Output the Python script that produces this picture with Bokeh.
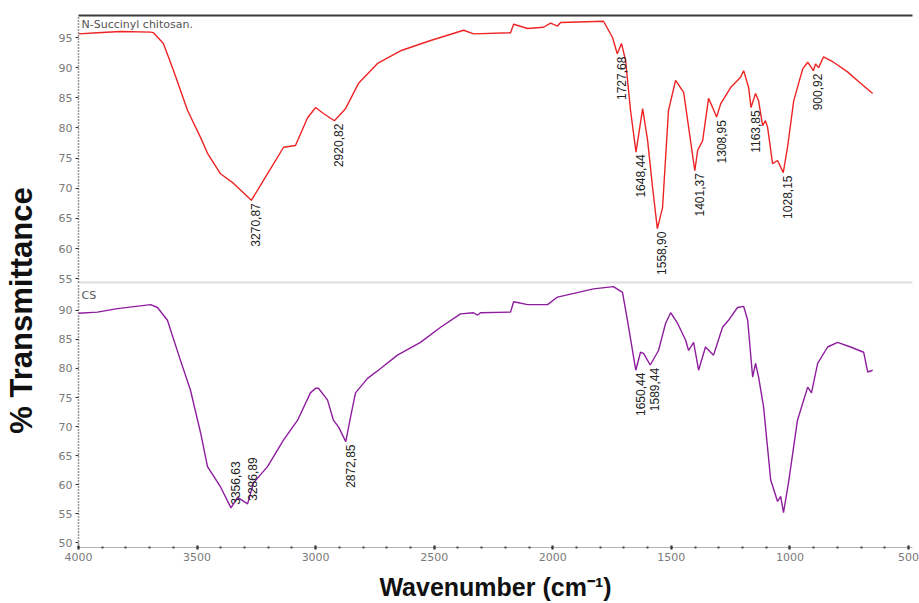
import numpy as np
from bokeh.plotting import figure
from bokeh.layouts import row, column
from bokeh.models import Range1d, SingleIntervalTicker, FixedTicker, LinearAxis
from bokeh.embed import file_html
from bokeh.resources import INLINE
from bokeh.core.properties import value

# ---------------- data ----------------
nsc_wn = [4000, 3920, 3823, 3696, 3684, 3642, 3599, 3540, 3485, 3456, 3401, 3346, 3271, 3220,
          3135, 3085, 3034, 3000, 2967, 2921, 2874, 2819, 2739, 2642, 2515, 2376, 2334, 2178,
          2165, 2106, 2039, 2009, 1980, 1967, 1786, 1748, 1728, 1710, 1693, 1672, 1649, 1621,
          1600, 1579, 1559, 1537, 1512, 1482, 1448, 1427, 1401, 1389, 1368, 1343, 1326, 1309,
          1292, 1250, 1208, 1195, 1174, 1164, 1145, 1132, 1115, 1103, 1094, 1073, 1052, 1028,
          1010, 984, 946, 925, 901, 892, 879, 858, 816, 757, 702, 651]
nsc_t = [95.6, 95.8, 96.0, 95.9, 95.8, 94.0, 89.5, 82.9, 78.4, 75.8, 72.4, 70.8, 68.0, 71.3,
         76.8, 77.1, 81.7, 83.4, 82.4, 81.2, 83.2, 87.4, 90.7, 92.8, 94.5, 96.2, 95.6, 95.8,
         97.2, 96.5, 96.7, 97.4, 96.9, 97.5, 97.7, 95.0, 92.3, 94.0, 91.2, 82.9, 76.0, 83.2,
         77.9, 70.1, 63.3, 66.8, 82.9, 87.9, 85.9, 80.1, 72.9, 76.3, 77.9, 84.9, 83.4, 81.8,
         84.0, 86.7, 88.4, 89.5, 86.7, 83.4, 85.7, 84.5, 80.4, 81.2, 80.1, 74.1, 74.6, 72.6,
         76.8, 84.5, 89.8, 90.9, 89.5, 90.6, 90.0, 91.8, 90.9, 89.3, 87.4, 85.7]

cs_wn = [4000, 3920, 3836, 3696, 3667, 3625, 3570, 3528, 3485, 3456, 3401, 3357, 3329, 3287,
         3262, 3203, 3135, 3076, 3022, 3000, 2988, 2950, 2925, 2903, 2873, 2853, 2832, 2781,
         2726, 2655, 2558, 2473, 2389, 2334, 2317, 2305, 2178, 2165, 2106, 2022, 1980, 1828,
         1744, 1706, 1685, 1650, 1630, 1617, 1589, 1554, 1524, 1503, 1474, 1440, 1427, 1406,
         1385, 1356, 1322, 1284, 1259, 1221, 1195, 1178, 1157, 1145, 1132, 1111, 1081, 1052,
         1039, 1027, 1006, 968, 925, 909, 883, 841, 799, 744, 689, 672, 651]
cs_t = [89.5, 89.7, 90.3, 91.0, 90.5, 88.3, 81.4, 76.3, 68.9, 63.1, 59.6, 56.0, 57.8, 56.7,
        60.3, 63.1, 67.7, 71.1, 75.8, 76.6, 76.6, 74.6, 71.1, 69.9, 67.4, 71.6, 75.8, 78.3,
        80.0, 82.3, 84.5, 87.1, 89.4, 89.6, 89.2, 89.6, 89.7, 91.5, 91.0, 91.0, 92.3, 93.7,
        94.1, 93.1, 88.3, 79.7, 82.8, 82.6, 80.6, 83.1, 87.8, 89.6, 87.8, 84.9, 83.1, 84.5,
        79.7, 83.7, 82.3, 87.1, 88.3, 90.5, 90.7, 88.3, 78.5, 80.9, 78.5, 73.4, 60.8, 57.1,
        58.0, 55.2, 60.3, 71.1, 76.8, 75.8, 80.9, 83.7, 84.5, 83.7, 82.8, 79.4, 79.7]

nsc_peaks = [3270.87, 2920.82, 1727.68, 1648.44, 1558.90, 1401.37, 1308.95, 1163.85, 1028.15, 900.92]
nsc_peak_labels = ["3270,87", "2920,82", "1727,68", "1648,44", "1558,90", "1401,37",
                   "1308,95", "1163,85", "1028,15", "900,92"]
cs_peaks_up = [3356.63, 3286.89]
cs_peak_labels_up = ["3356,63", "3286,89"]
cs_peaks_down = [2872.85, 1650.44, 1589.44]
cs_peak_labels_down = ["2872,85", "1650,44", "1589,44"]

x_ticks_interval = 500
top_title = "N-Succinyl chitosan."
bottom_title = "CS"

# ---------------- styling ----------------
TICK_FONT = "DejaVu Sans"
LABEL_FONT = "Liberation Sans"
RED = "#ee2424"
PURPLE = "#8e1d9e"

x_range = Range1d(4000, 483)
top_y = Range1d(54.37, 98.65)
bot_y = Range1d(49.18, 94.29)


def interp(w, wn, t):
    return list(np.interp(w, wn[::-1], t[::-1]))


def style_y(ax):
    ax.ticker = SingleIntervalTicker(interval=5, num_minor_ticks=0)
    ax.axis_line_color = "#333333"
    ax.axis_line_dash = "1 2"
    ax.axis_line_width = 1.5
    ax.major_tick_out = 3
    ax.major_tick_in = 0
    ax.major_tick_line_color = "#333333"
    ax.minor_tick_line_color = None
    ax.major_label_text_color = "#7a7a7a"
    ax.major_label_text_font = TICK_FONT
    ax.major_label_text_font_size = "11px"
    ax.major_label_standoff = 3


def line_axis(color, width):
    return LinearAxis(ticker=FixedTicker(ticks=[]), axis_line_color=color, axis_line_width=width,
                      major_tick_out=0, major_tick_in=0, minor_tick_out=0, minor_tick_in=0,
                      major_label_standoff=0, major_label_text_font_size="0px")


# ---------------- top panel ----------------
top = figure(width=867, height=285, x_range=x_range, y_range=top_y, x_axis_location=None,
             output_backend="svg", toolbar_location=None, min_border_left=26, min_border_right=7,
             min_border_top=15, min_border_bottom=3, outline_line_color=None)
top.grid.visible = False
style_y(top.yaxis[0])
top.add_layout(line_axis("#3a3a3a", 2), "above")
top.add_layout(line_axis("#dedede", 2), "below")
top.line(nsc_wn, nsc_t, line_color=RED, line_width=1.4)
top.text(x=nsc_peaks, y=interp(nsc_peaks, nsc_wn, nsc_t), text=nsc_peak_labels, angle=np.pi / 2,
         text_align="right", text_baseline="top", y_offset=3, text_font=value(LABEL_FONT),
         text_font_size="12px", text_color="#222222")
top.text(x=[x_range.start], y=[top_y.end], text=[top_title], x_offset=3, y_offset=2,
         text_baseline="top", text_font=value(TICK_FONT), text_font_size="11px", text_color="#555555")

# ---------------- bottom panel ----------------
bot = figure(width=867, height=318, x_range=x_range, y_range=bot_y,
             output_backend="svg", toolbar_location=None, min_border_left=26, min_border_right=7,
             min_border_top=0, min_border_bottom=56, outline_line_color=None)
bot.grid.visible = False
style_y(bot.yaxis[0])
xa = bot.xaxis[0]
xa.ticker = SingleIntervalTicker(interval=x_ticks_interval, num_minor_ticks=5)
xa.axis_line_color = "#b4b4b4"
xa.major_tick_in = 2
xa.major_tick_out = 2
xa.major_tick_line_width = 2
xa.major_tick_line_color = "#222222"
xa.minor_tick_in = 1
xa.minor_tick_out = 1
xa.minor_tick_line_width = 2
xa.minor_tick_line_color = "#444444"
xa.major_label_text_color = "#7a7a7a"
xa.major_label_text_font = TICK_FONT
xa.major_label_text_font_size = "11px"
xa.major_label_standoff = 3
xa.axis_label = "Wavenumber (cm\u207b\u00b9)"
xa.axis_label_text_font = LABEL_FONT
xa.axis_label_text_font_style = "bold"
xa.axis_label_text_font_size = "25px"
xa.axis_label_text_color = "#111111"
xa.axis_label_standoff = 9
bot.line(cs_wn, cs_t, line_color=PURPLE, line_width=1.4)
bot.text(x=cs_peaks_up, y=interp(cs_peaks_up, cs_wn, cs_t), text=cs_peak_labels_up, angle=np.pi / 2,
         text_align="left", text_baseline="top", y_offset=-3, text_font=value(LABEL_FONT),
         text_font_size="12px", text_color="#222222")
bot.text(x=cs_peaks_down, y=interp(cs_peaks_down, cs_wn, cs_t), text=cs_peak_labels_down,
         angle=np.pi / 2, text_align="right", text_baseline="top", y_offset=3,
         text_font=value(LABEL_FONT), text_font_size="12px", text_color="#222222")
bot.text(x=[x_range.start], y=[bot_y.end], text=[bottom_title], x_offset=3, y_offset=3,
         text_baseline="top", text_font=value(TICK_FONT), text_font_size="11px", text_color="#555555")

# ---------------- shared y label ----------------
lab = figure(width=52, height=603, x_range=Range1d(0, 1), y_range=Range1d(0, 1), x_axis_location=None,
             output_backend="svg", toolbar_location=None, min_border_left=0, min_border_right=12,
             min_border_top=17, min_border_bottom=0, outline_line_color=None)
lab.grid.visible = False
ya = lab.yaxis[0]
ya.ticker = FixedTicker(ticks=[])
ya.axis_line_color = None
ya.major_tick_out = 0
ya.minor_tick_out = 0
ya.major_label_text_font_size = "0px"
ya.major_label_standoff = 0
ya.axis_label = "% Transmittance"
ya.axis_label_text_font = LABEL_FONT
ya.axis_label_text_font_style = "bold"
ya.axis_label_text_font_size = "31px"
ya.axis_label_text_color = "#111111"
ya.axis_label_standoff = 0

layout = row(lab, column(top, bot))
open("out.html", "w").write(file_html(layout, INLINE))
